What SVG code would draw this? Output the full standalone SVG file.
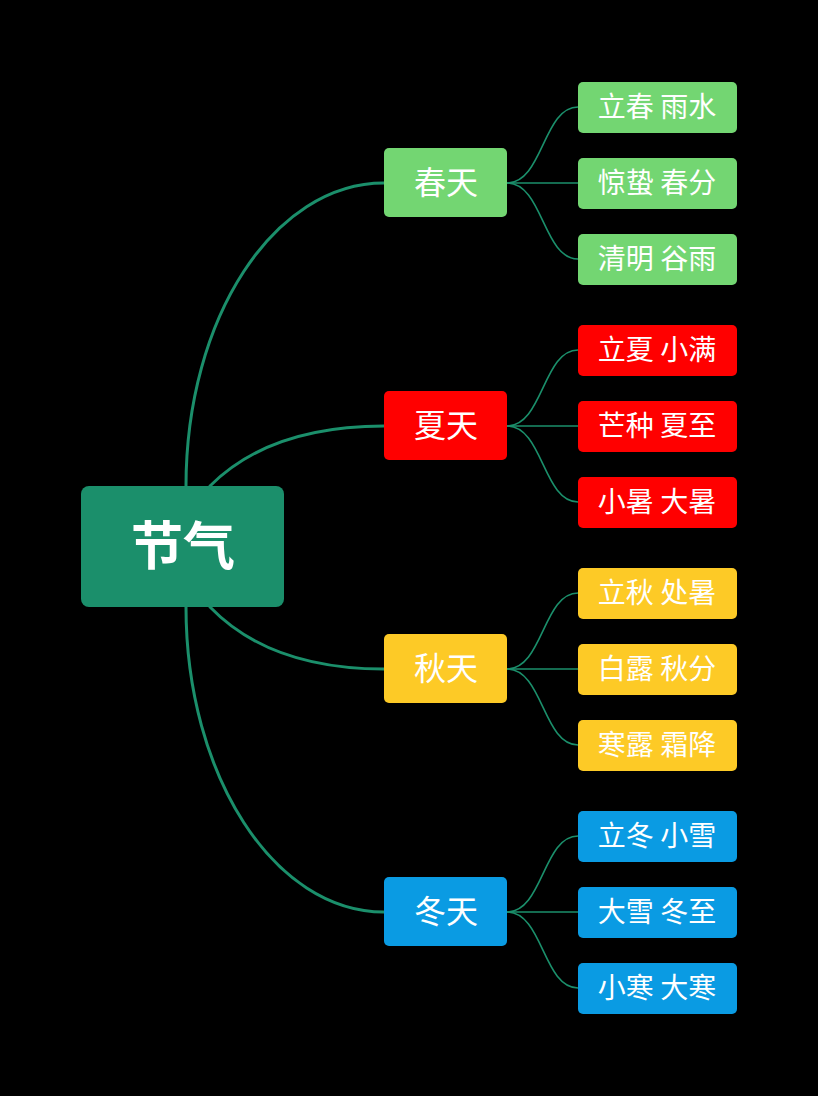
<svg xmlns="http://www.w3.org/2000/svg" width="818" height="1096" viewBox="0 0 818 1096">
  <style>
    .bg { fill: #000000; }
    .main { fill: none; stroke: #1b8f6b; stroke-width: 3; stroke-linecap: round; }
    .sub { fill: none; stroke: #1b8f6b; stroke-width: 1.6; }
    .root rect { fill: #1b8f6b; }
    .spring rect { fill: #73d672; }
    .summer rect { fill: #ff0000; }
    .autumn rect { fill: #fdca26; }
    .winter rect { fill: #0a9be3; }
    text { fill: #ffffff; font-family: "Noto Sans CJK SC", "Noto Sans", sans-serif; text-anchor: middle; }
    .t-root { font-size: 52px; font-weight: 700; }
    .t-season { font-size: 32px; }
    .t-leaf { font-size: 28px; }
  </style>

  <rect class="bg" x="0" y="0" width="818" height="1096"/>

  <!-- connectors -->
  <g id="connectors">
    <!-- root to seasons -->
    <path class="main" d="M186,486 C186,318 274,183 384,183"/>
    <path class="main" d="M210,486 Q270,426 384,426"/>
    <path class="main" d="M210,607 Q270,669 384,669"/>
    <path class="main" d="M186,607 C186,775 274,912 384,912"/>
    <!-- spring leaves -->
    <path class="sub" d="M507,183 C543,183 543,107 578,107"/>
    <path class="sub" d="M507,183 L578,183"/>
    <path class="sub" d="M507,183 C543,183 543,259 578,259"/>
    <!-- summer leaves -->
    <path class="sub" d="M507,426 C543,426 543,350 578,350"/>
    <path class="sub" d="M507,426 L578,426"/>
    <path class="sub" d="M507,426 C543,426 543,502 578,502"/>
    <!-- autumn leaves -->
    <path class="sub" d="M507,669 C543,669 543,593 578,593"/>
    <path class="sub" d="M507,669 L578,669"/>
    <path class="sub" d="M507,669 C543,669 543,745 578,745"/>
    <!-- winter leaves -->
    <path class="sub" d="M507,912 C543,912 543,836 578,836"/>
    <path class="sub" d="M507,912 L578,912"/>
    <path class="sub" d="M507,912 C543,912 543,988 578,988"/>
  </g>

  <!-- root -->
  <g id="root" class="root">
    <rect x="81" y="486" width="203" height="121" rx="8"/>
    <text class="t-root" x="183" y="565">节气</text>
  </g>

  <!-- seasons -->
  <g id="spring" class="spring">
    <rect x="384" y="148" width="123" height="69" rx="5"/>
    <text class="t-season" x="446" y="194">春天</text>
  </g>
  <g id="summer" class="summer">
    <rect x="384" y="391" width="123" height="69" rx="5"/>
    <text class="t-season" x="446" y="437">夏天</text>
  </g>
  <g id="autumn" class="autumn">
    <rect x="384" y="634" width="123" height="69" rx="5"/>
    <text class="t-season" x="446" y="680">秋天</text>
  </g>
  <g id="winter" class="winter">
    <rect x="384" y="877" width="123" height="69" rx="5"/>
    <text class="t-season" x="446" y="923">冬天</text>
  </g>

  <!-- spring terms -->
  <g id="lichun-yushui" class="spring">
    <rect x="578" y="82" width="159" height="51" rx="5"/>
    <text class="t-leaf" x="657" y="117">立春 雨水</text>
  </g>
  <g id="jingzhe-chunfen" class="spring">
    <rect x="578" y="158" width="159" height="51" rx="5"/>
    <text class="t-leaf" x="657" y="193">惊蛰 春分</text>
  </g>
  <g id="qingming-guyu" class="spring">
    <rect x="578" y="234" width="159" height="51" rx="5"/>
    <text class="t-leaf" x="657" y="269">清明 谷雨</text>
  </g>

  <!-- summer terms -->
  <g id="lixia-xiaoman" class="summer">
    <rect x="578" y="325" width="159" height="51" rx="5"/>
    <text class="t-leaf" x="657" y="360">立夏 小满</text>
  </g>
  <g id="mangzhong-xiazhi" class="summer">
    <rect x="578" y="401" width="159" height="51" rx="5"/>
    <text class="t-leaf" x="657" y="436">芒种 夏至</text>
  </g>
  <g id="xiaoshu-dashu" class="summer">
    <rect x="578" y="477" width="159" height="51" rx="5"/>
    <text class="t-leaf" x="657" y="512">小暑 大暑</text>
  </g>

  <!-- autumn terms -->
  <g id="liqiu-chushu" class="autumn">
    <rect x="578" y="568" width="159" height="51" rx="5"/>
    <text class="t-leaf" x="657" y="603">立秋 处暑</text>
  </g>
  <g id="bailu-qiufen" class="autumn">
    <rect x="578" y="644" width="159" height="51" rx="5"/>
    <text class="t-leaf" x="657" y="679">白露 秋分</text>
  </g>
  <g id="hanlu-shuangjiang" class="autumn">
    <rect x="578" y="720" width="159" height="51" rx="5"/>
    <text class="t-leaf" x="657" y="755">寒露 霜降</text>
  </g>

  <!-- winter terms -->
  <g id="lidong-xiaoxue" class="winter">
    <rect x="578" y="811" width="159" height="51" rx="5"/>
    <text class="t-leaf" x="657" y="846">立冬 小雪</text>
  </g>
  <g id="daxue-dongzhi" class="winter">
    <rect x="578" y="887" width="159" height="51" rx="5"/>
    <text class="t-leaf" x="657" y="922">大雪 冬至</text>
  </g>
  <g id="xiaohan-dahan" class="winter">
    <rect x="578" y="963" width="159" height="51" rx="5"/>
    <text class="t-leaf" x="657" y="998">小寒 大寒</text>
  </g>
</svg>
